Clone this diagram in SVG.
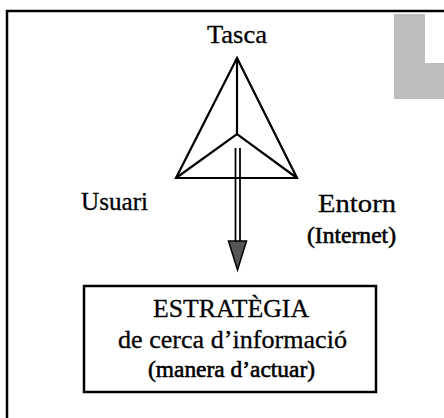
<svg xmlns="http://www.w3.org/2000/svg" width="444" height="418" viewBox="0 0 444 418">
<style>
  .t { font-family: "Liberation Serif", "Times New Roman", serif; fill: #000; text-anchor: middle; stroke: #000; stroke-width: 0.3; }
  .lbl { font-size: 26px; }
  .sub { font-size: 24px; stroke-width: 0.6; }
  .ln { stroke: #000; stroke-width: 2.2; fill: none; stroke-linejoin: miter; }
</style>
<rect x="0" y="0" width="444" height="418" fill="#fff"/>
<g id="frame">
  <polyline points="7,418 7,11 444,11" fill="none" stroke="#000" stroke-width="2.5"/>
  <polygon points="394,14 425,14 425,63 444,63 444,99 394,99" fill="#bdbdbd"/>
</g>
<g id="connectors">
  <g id="triangle" class="ln">
    <polygon points="237,58 176,178 297,178"/>
    <polyline points="237,58 237,134"/>
    <polyline points="176,178 237,134 297,178"/>
  </g>
  <g id="arrow">
    <line x1="235.5" y1="148" x2="235.5" y2="242" stroke="#000" stroke-width="1.8"/>
    <line x1="240" y1="148" x2="240" y2="242" stroke="#000" stroke-width="1.8"/>
    <polygon points="228.5,241 246.5,241 237.5,270" fill="#555" stroke="#000" stroke-width="1.5" stroke-linejoin="miter"/>
  </g>
</g>
<g id="tasca"><text class="t lbl" x="237" y="43" textLength="60" lengthAdjust="spacingAndGlyphs">Tasca</text></g>
<g id="usuari"><text class="t lbl" x="114.5" y="210" textLength="67" lengthAdjust="spacingAndGlyphs">Usuari</text></g>
<g id="entorn">
  <text class="t lbl" x="357" y="212" textLength="78" lengthAdjust="spacingAndGlyphs">Entorn</text>
  <text class="t sub" x="351.5" y="243" textLength="89" lengthAdjust="spacingAndGlyphs">(Internet)</text>
</g>
<g id="estrategia">
  <rect x="84" y="286" width="292" height="106" fill="none" stroke="#000" stroke-width="2.5"/>
  <text class="t lbl" x="231" y="317" textLength="156" lengthAdjust="spacingAndGlyphs">ESTRATÈGIA</text>
  <text class="t" x="232.5" y="348" font-size="26" textLength="229" lengthAdjust="spacingAndGlyphs">de cerca d’informació</text>
  <text class="t sub" x="231.5" y="377" textLength="167" lengthAdjust="spacingAndGlyphs">(manera d’actuar)</text>
</g>
</svg>
